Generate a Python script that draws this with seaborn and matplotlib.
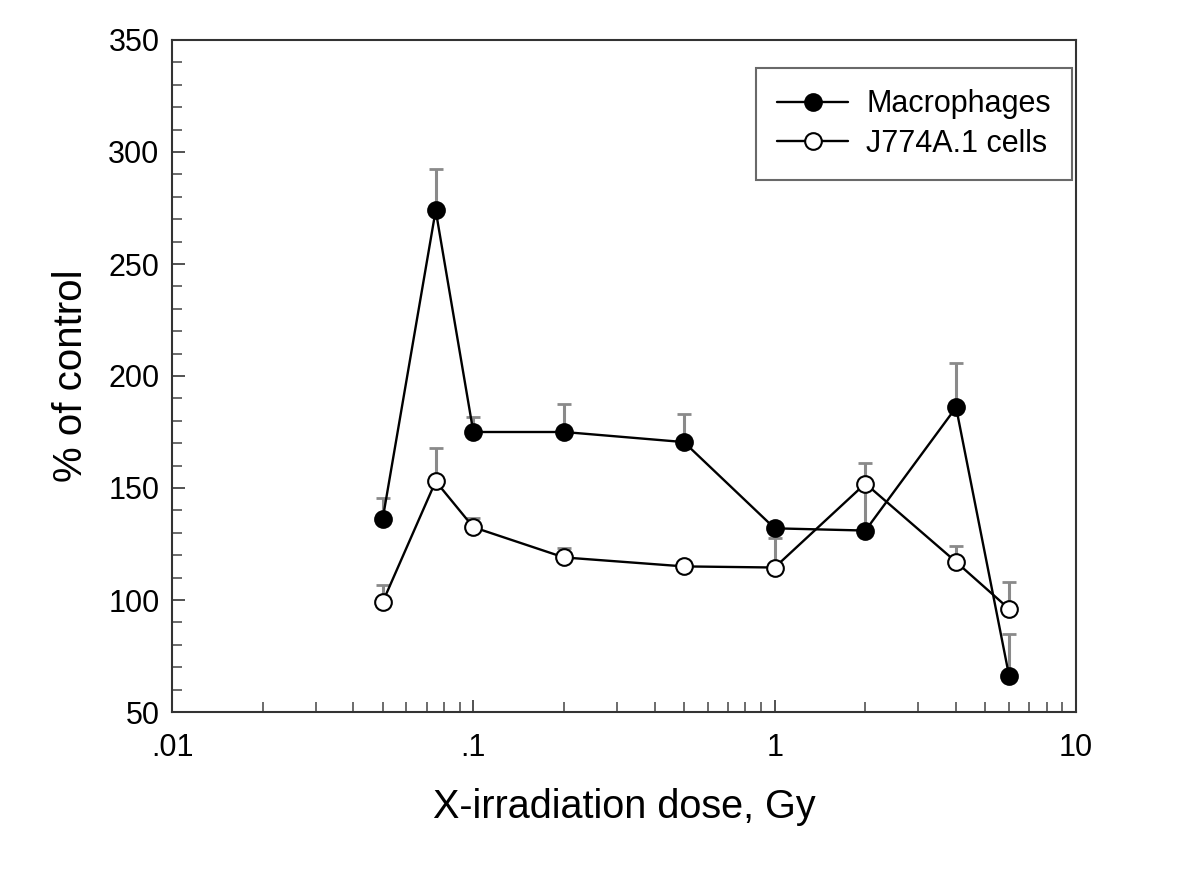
import numpy as np
import pandas as pd
import matplotlib
matplotlib.use("Agg")
import matplotlib.pyplot as plt
import seaborn as sns
from matplotlib.ticker import FixedLocator, FixedFormatter, MultipleLocator, LogLocator, NullFormatter

# ---- data ----
dose = [0.05, 0.075, 0.1, 0.2, 0.5, 1, 2, 4, 6]
macrophages = [136, 274, 175, 175, 170.5, 132, 131, 186, 66]
macrophages_err = [9.5, 18.5, 6.5, 12.5, 12.5, 1, 19, 20, 19]
j774 = [99, 153, 132.5, 119, 115, 114.5, 152, 117, 96]
j774_err = [7.5, 15, 4, 4, 2, 13, 9, 7, 12]

series_names = ["Macrophages", "J774A.1 cells"]
x_tick_values = [0.01, 0.1, 1, 10]
x_tick_labels = [".01", ".1", "1", "10"]
y_tick_values = [50, 100, 150, 200, 250, 300, 350]

sns.set_style("ticks")
plt.rcParams['font.family'] = ['Liberation Sans', 'DejaVu Sans']
plt.rcParams['text.color'] = 'black'
plt.rcParams['axes.labelcolor'] = 'black'
plt.rcParams['xtick.color'] = '#444444'
plt.rcParams['ytick.color'] = '#444444'
plt.rcParams['xtick.labelcolor'] = 'black'
plt.rcParams['ytick.labelcolor'] = 'black'

fig = plt.figure(figsize=(12, 8.82), dpi=100)
ax = fig.add_axes([172/1200, 1-712/882, (1076-172)/1200, (712-40)/882])

df_m = pd.DataFrame({"dose": dose, "value": macrophages})
df_j = pd.DataFrame({"dose": dose, "value": j774})

# error bars (upper only, gray)
ax.errorbar(dose, macrophages, yerr=[np.zeros(len(dose)), macrophages_err], fmt='none',
            ecolor='#8a8a8a', elinewidth=2.2, capsize=5, capthick=2, zorder=2)
ax.errorbar(dose, j774, yerr=[np.zeros(len(dose)), j774_err], fmt='none',
            ecolor='#8a8a8a', elinewidth=2.2, capsize=5, capthick=2, zorder=2)

sns.lineplot(data=df_m, x="dose", y="value", ax=ax, color='black', lw=1.7,
             marker='o', markersize=12, markerfacecolor='black', markeredgecolor='black',
             markeredgewidth=1.5, label=series_names[0], zorder=3)
sns.lineplot(data=df_j, x="dose", y="value", ax=ax, color='black', lw=1.7,
             marker='o', markersize=12, markerfacecolor='white', markeredgecolor='black',
             markeredgewidth=1.5, label=series_names[1], zorder=4)

ax.set_xscale('log')
ax.set_xlim(0.01, 10)
ax.set_ylim(50, 350)
ax.xaxis.set_major_locator(FixedLocator(x_tick_values))
ax.xaxis.set_major_formatter(FixedFormatter(x_tick_labels))
ax.xaxis.set_minor_locator(LogLocator(base=10, subs=np.arange(2, 10)))
ax.xaxis.set_minor_formatter(NullFormatter())
ax.yaxis.set_major_locator(FixedLocator(y_tick_values))
ax.yaxis.set_minor_locator(MultipleLocator(10))

for s in ax.spines.values():
    s.set_visible(True)
    s.set_linewidth(1.5)
    s.set_color('#333333')

ax.tick_params(which='both', direction='in', top=False, right=False)
ax.tick_params(axis='y', which='major', length=9, width=1.3, labelsize=22, pad=9)
ax.tick_params(axis='x', which='major', length=9, width=1.3, labelsize=22, pad=15)
ax.tick_params(which='minor', length=7, width=1.1)

ax.set_xlabel("X-irradiation dose, Gy", fontsize=28.5, labelpad=18)
ax.set_ylabel("% of control", fontsize=29, labelpad=13)

leg = ax.legend(loc='upper right', bbox_to_anchor=(0.9956, 0.9583), fontsize=22,
                frameon=True, fancybox=False, borderaxespad=0, handlelength=2.3,
                handletextpad=0.6, borderpad=0.7, labelspacing=0.3)
leg.get_frame().set_edgecolor('#444444')
leg.get_frame().set_linewidth(1.5)

fig.savefig("out.png", dpi=100)
